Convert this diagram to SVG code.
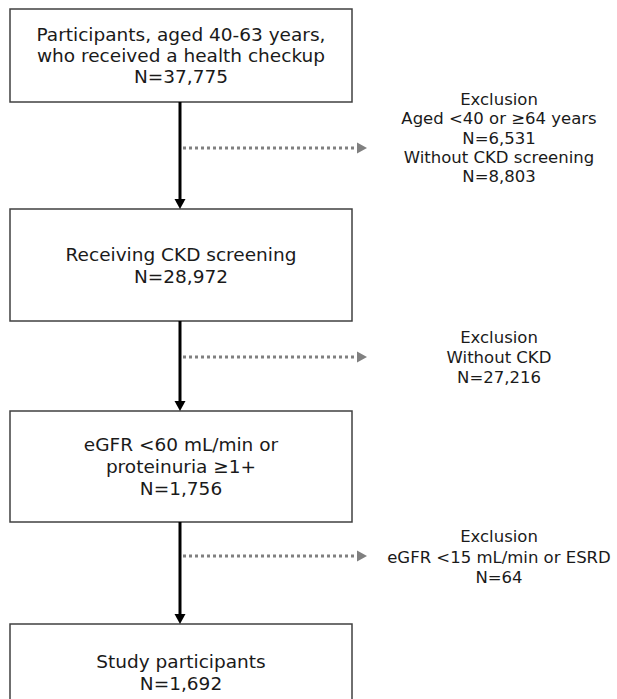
<svg xmlns="http://www.w3.org/2000/svg" width="617" height="699" viewBox="0 0 617 699">
<style>
.box{fill:#fff;stroke:#404040;stroke-width:1.5}
.t{font-family:"DejaVu Sans",Verdana,sans-serif;font-size:18.5px;fill:#1a1a1a;text-anchor:middle}
.r{font-family:"DejaVu Sans",Verdana,sans-serif;font-size:16.5px;fill:#1a1a1a;text-anchor:middle}
.main{stroke:#000;stroke-width:3;fill:none}
.dot{stroke:#808080;stroke-width:3;stroke-dasharray:3 3;fill:none}
</style>
<defs>
<marker id="ah" markerWidth="11" markerHeight="10" refX="5.5" refY="10" orient="auto-start-reverse" markerUnits="userSpaceOnUse" viewBox="0 0 11 10">
<path d="M0,0 L11,0 L5.5,10 Z" fill="#000"/>
</marker>
</defs>
<rect width="617" height="699" fill="#fff"/>
<g id="node1">
<rect class="box" x="10" y="9" width="342" height="93"/>
<text class="t" x="181" y="41">Participants, aged 40-63 years,</text>
<text class="t" x="181" y="62">who received a health checkup</text>
<text class="t" x="181" y="83">N=37,775</text>
</g>
<g id="node2">
<rect class="box" x="10" y="209" width="342" height="112"/>
<text class="t" x="181" y="261">Receiving CKD screening</text>
<text class="t" x="181" y="283">N=28,972</text>
</g>
<g id="node3">
<rect class="box" x="10" y="411" width="342" height="111"/>
<text class="t" x="181" y="451">eGFR &lt;60 mL/min or</text>
<text class="t" x="181" y="473">proteinuria ≥1+</text>
<text class="t" x="181" y="495">N=1,756</text>
</g>
<g id="node4">
<rect class="box" x="10" y="624" width="342" height="90"/>
<text class="t" x="181" y="668">Study participants</text>
<text class="t" x="181" y="690">N=1,692</text>
</g>
<g id="excl1">
<text class="r" x="499" y="105">Exclusion</text>
<text class="r" x="499" y="124">Aged &lt;40 or ≥64 years</text>
<text class="r" x="499" y="143.5">N=6,531</text>
<text class="r" x="499" y="163">Without CKD screening</text>
<text class="r" x="499" y="182">N=8,803</text>
</g>
<g id="excl2">
<text class="r" x="499" y="343">Exclusion</text>
<text class="r" x="499" y="363">Without CKD</text>
<text class="r" x="499" y="383">N=27,216</text>
</g>
<g id="excl3">
<text class="r" x="499" y="542">Exclusion</text>
<text class="r" x="499" y="563">eGFR &lt;15 mL/min or ESRD</text>
<text class="r" x="499" y="583">N=64</text>
</g>
<g id="connectors">
<line class="main" x1="180" y1="102" x2="180" y2="200"/>
<path d="M174.5,199 L185.5,199 L180,209 Z" fill="#000"/>
<line class="main" x1="180" y1="321" x2="180" y2="402"/>
<path d="M174.5,401 L185.5,401 L180,411 Z" fill="#000"/>
<line class="main" x1="180" y1="522" x2="180" y2="615"/>
<path d="M174.5,614 L185.5,614 L180,624 Z" fill="#000"/>
<line class="dot" x1="183" y1="148" x2="357" y2="148"/>
<path d="M357,142.5 L367,148 L357,153.5 Z" fill="#808080"/>
<line class="dot" x1="183" y1="357" x2="357" y2="357"/>
<path d="M357,351.5 L367,357 L357,362.5 Z" fill="#808080"/>
<line class="dot" x1="183" y1="556" x2="357" y2="556"/>
<path d="M357,550.5 L367,556 L357,561.5 Z" fill="#808080"/>
</g>
</svg>
